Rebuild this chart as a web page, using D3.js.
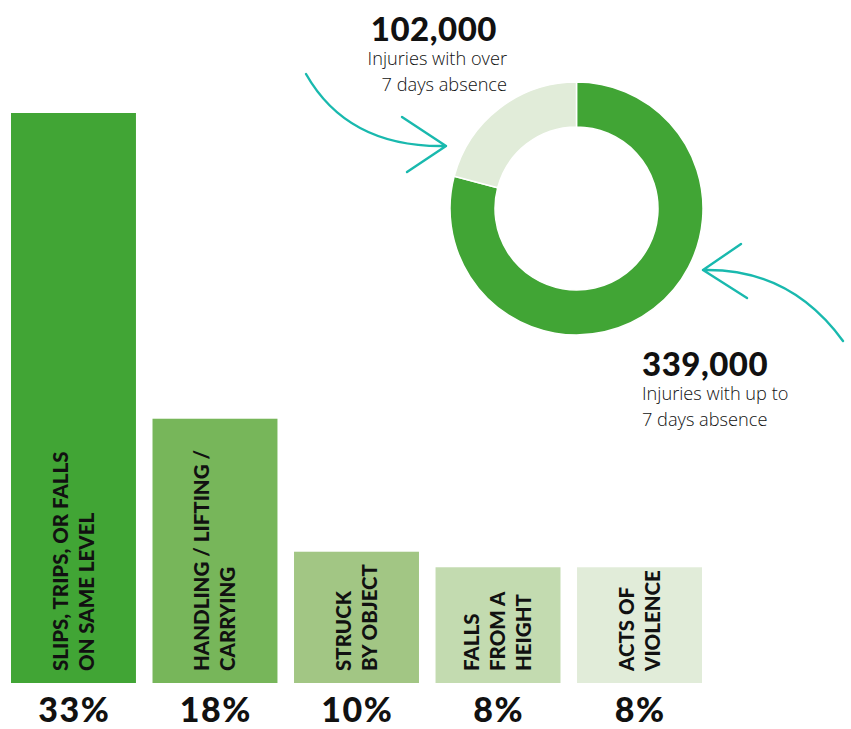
<!DOCTYPE html>
<html>
<head>
<meta charset="utf-8">
<script src="https://cdn.jsdelivr.net/npm/d3@7"></script>
<style>
  body { margin: 0; background: #fff; }
  svg { display: block; }
  .bar-label { font-family: Lato, sans-serif; font-weight: 900; fill: #111; }
  .pct-label { font-family: Lato, sans-serif; font-weight: 900; fill: #111; }
  .big-num { font-family: Lato, sans-serif; font-weight: 900; fill: #111; }
  .note { font-family: "Open Sans", sans-serif; font-weight: 300; fill: #111; }
</style>
</head>
<body>
<script>
/*=====================================================================
 data
======================================================================*/
var categories = ["slips", "handling", "struck", "falls", "violence"];
var barNames = [
  ["SLIPS, TRIPS, OR FALLS", "ON SAME LEVEL"],
  ["HANDLING / LIFTING /", "CARRYING"],
  ["STRUCK", "BY OBJECT"],
  ["FALLS", "FROM A", "HEIGHT"],
  ["ACTS OF", "VIOLENCE"]
];
var shareLabels = ["33%", "18%", "10%", "8%", "8%"];
// bar lengths as drawn in the picture (in % units of the tallest bar)
var barLengths = [33, 15.3, 7.6, 6.7, 6.7];
var barColors = ["#41a535", "#77b65a", "#a2c684", "#c3dbb0", "#e1ecd9"];

var absenceValues = [339000, 102000]; // up to 7 days, over 7 days
var absenceLabels = ["339,000", "102,000"];
// slice shares as drawn in the picture
var absenceShares = [79.1, 20.9];
var absenceColors = ["#41a535", "#e1ecd9"];

var teal = "#19b9ae";

/*=====================================================================
 svg
======================================================================*/
var width = 851, height = 729;
var svg = d3.select("body").append("svg")
    .attr("width", width)
    .attr("height", height);

/*************
 bar chart
**************/
var x = d3.scaleBand()
    .domain(categories)
    .range([11, 702])
    .paddingInner(0.117)
    .paddingOuter(0);

var y = d3.scaleLinear()
    .domain([0, 33])
    .range([683, 113]);

var bars = svg.append("g").selectAll("g")
    .data(categories)
    .enter().append("g");

bars.append("rect")
    .attr("x", function (d) { return x(d); })
    .attr("y", function (d, i) { return y(barLengths[i]); })
    .attr("width", x.bandwidth())
    .attr("height", function (d, i) { return y(0) - y(barLengths[i]); })
    .attr("fill", function (d, i) { return barColors[i]; });

var labelSize = 20.5, lineGap = 26;
bars.append("text")
    .attr("class", "bar-label")
    .attr("font-size", labelSize)
    .attr("transform", function (d) {
        return "translate(" + (x(d) + x.bandwidth() / 2) + "," + (y(0) - 12) + ") rotate(-90)";
    })
    .each(function (d, i) {
        var lines = barNames[i];
        var t = d3.select(this);
        lines.forEach(function (line, j) {
            t.append("tspan")
                .attr("x", 0)
                .attr("y", (j - (lines.length - 1) / 2) * lineGap + labelSize * 0.36)
                .text(line);
        });
    });

bars.append("text")
    .attr("class", "pct-label")
    .attr("font-size", 34)
    .attr("letter-spacing", 1.5)
    .attr("text-anchor", "middle")
    .attr("x", function (d) { return x(d) + x.bandwidth() / 2 + 0.75; })
    .attr("y", 722)
    .text(function (d, i) { return shareLabels[i]; });

/*************
 donut
**************/
var cx = 576.5, cy = 208.5;
var pie = d3.pie().sort(null);
var arc = d3.arc().innerRadius(81.5).outerRadius(126.5);

svg.append("g")
    .attr("transform", "translate(" + cx + "," + cy + ")")
    .selectAll("path")
    .data(pie(absenceShares))
    .enter().append("path")
    .attr("d", arc)
    .attr("fill", function (d, i) { return absenceColors[i]; })
    .attr("stroke", "#fff")
    .attr("stroke-width", 1.5);

// labels
svg.append("text").attr("class", "big-num")
    .attr("font-size", 33).attr("letter-spacing", 0.5).attr("text-anchor", "end")
    .attr("x", 497).attr("y", 41)
    .text(absenceLabels[1]);
svg.append("text").attr("class", "note")
    .attr("font-size", 18.2).attr("text-anchor", "end")
    .attr("x", 507).attr("y", 65)
    .text("Injuries with over");
svg.append("text").attr("class", "note")
    .attr("font-size", 18.2).attr("text-anchor", "end")
    .attr("x", 507).attr("y", 91)
    .text("7 days absence");

svg.append("text").attr("class", "big-num")
    .attr("font-size", 33).attr("letter-spacing", 0.5)
    .attr("x", 642).attr("y", 376)
    .text(absenceLabels[0]);
svg.append("text").attr("class", "note")
    .attr("font-size", 18.2)
    .attr("x", 642).attr("y", 400)
    .text("Injuries with up to");
svg.append("text").attr("class", "note")
    .attr("font-size", 18.2)
    .attr("x", 642).attr("y", 426)
    .text("7 days absence");

/*************
 arrows
**************/
function arrow(from, ctrl, tip, head1, head2) {
    var p = d3.path();
    p.moveTo(from[0], from[1]);
    p.quadraticCurveTo(ctrl[0], ctrl[1], tip[0], tip[1]);
    p.moveTo(head1[0], head1[1]);
    p.lineTo(tip[0], tip[1]);
    p.lineTo(head2[0], head2[1]);
    svg.append("path")
        .attr("d", p.toString())
        .attr("fill", "none")
        .attr("stroke", teal)
        .attr("stroke-width", 2.4)
        .attr("stroke-linecap", "round")
        .attr("stroke-linejoin", "round");
}
arrow([306, 74], [348, 148], [446, 146], [402, 117], [407, 172]);
arrow([843, 341], [790, 268], [703, 270], [741, 244], [747, 298]);
</script>
</body>
</html>
